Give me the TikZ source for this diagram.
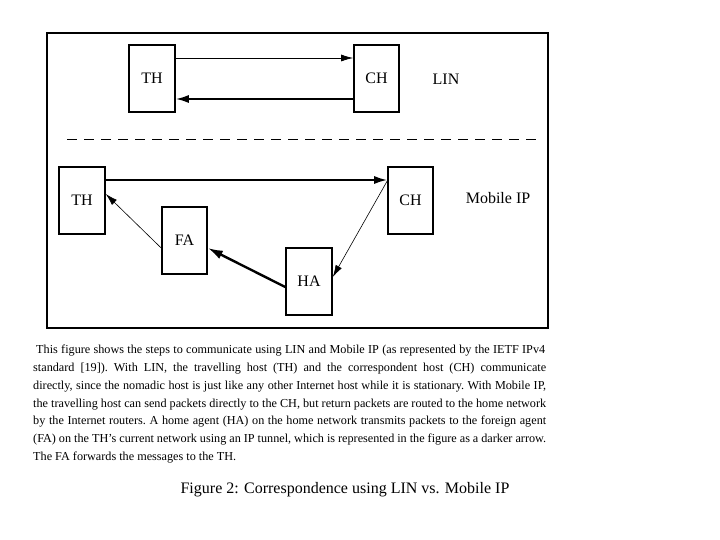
\documentclass[tikz,border=0pt]{standalone}
\usepackage{fontspec}
\setmainfont{Liberation Serif}
\usetikzlibrary{arrows.meta}
\tikzset{
  box/.style={draw, line width=1.6pt, minimum width=46pt, minimum height=67pt, inner sep=0pt, font=\fontsize{16}{18}\selectfont},
  lbl/.style={inner sep=0pt, font=\fontsize{16}{18}\selectfont},
  thin arrow/.style={-{Latex[length=12pt,width=7pt]}, line width=0.6pt},
  thick arrow/.style={-{Latex[length=15pt,width=9pt]}, line width=2.4pt},
  mid arrow/.style={-{Latex[length=13pt,width=8pt]}, line width=1.8pt},
  para/.style={anchor=west, inner sep=0pt, font=\fontsize{12.2}{15}\selectfont\frenchspacing},
}
\begin{document}
\begin{tikzpicture}[x=1pt,y=-1pt]
\useasboundingbox (0,0) rectangle (720,540);
\draw[line width=2pt] (47,33) rectangle (548,328);
% LIN
\node[box] (thT) at (152,78.5) {TH};
\node[box, minimum width=45pt] (chT) at (376.5,78.5) {CH};
\node[lbl] (lin) at (446,79) {LIN};
\draw[thin arrow, line width=0.8pt] ([yshift=20.5pt]thT.east) -- ([yshift=20.5pt]chT.west);
\draw[mid arrow] ([yshift=-20.5pt]chT.west) -- ([yshift=-20.5pt]thT.east);
% separator
\coordinate (d1) at (67,139);
\coordinate (d2) at (540,139);
\draw[line width=0.9pt, dash pattern=on 10pt off 7pt] (d1) -- (d2);
% Mobile IP
\node[box] (thB) at (82,200.5) {TH};
\node[box, minimum width=45pt] (chB) at (410.5,200.5) {CH};
\node[box, minimum width=45pt] (fa) at (184.5,240.5) {FA};
\node[box] (ha) at (309,281.5) {HA};
\node[lbl] (mip) at (498,198) {Mobile IP};
\draw[mid arrow] ([yshift=20.5pt]thB.east) -- ([yshift=20.5pt]chB.west);
\draw[thin arrow] ([yshift=-7.5pt]fa.west) -- ([yshift=6.5pt]thB.east);
\draw[thick arrow] ([yshift=-5.5pt]ha.west) -- ([yshift=-7.5pt]fa.east);
\draw[thin arrow] ([yshift=19.5pt]chB.west) -- ([yshift=4.5pt]ha.east);
% caption paragraph
\node[para] (p1) at (36,351) {\makebox[509pt][s]{This figure shows the steps to communicate using LIN and Mobile IP (as represented by the IETF IPv4}};
\node[para] (p2) at (33,369) {\makebox[513pt][s]{standard [19]). With LIN, the travelling host (TH) and the correspondent host (CH) communicate}};
\node[para] (p3) at (33,386.5) {\makebox[513pt][s]{directly, since the nomadic host is just like any other Internet host while it is stationary. With Mobile IP,}};
\node[para] (p4) at (33,404.5) {\makebox[513pt][s]{the travelling host can send packets directly to the CH, but return packets are routed to the home network}};
\node[para] (p5) at (33,422) {\makebox[513pt][s]{by the Internet routers. A home agent (HA) on the home network transmits packets to the foreign agent}};
\node[para] (p6) at (33,440) {\makebox[513pt][s]{(FA) on the TH's current network using an IP tunnel, which is represented in the figure as a darker arrow.}};
\node[para] (p7) at (33,458) {The FA forwards the messages to the TH.};
\node[inner sep=0pt, font=\fontsize{16}{18}\selectfont] (cap) at (345,490) {Figure 2: Correspondence using LIN vs. Mobile IP};
\end{tikzpicture}
\end{document}
